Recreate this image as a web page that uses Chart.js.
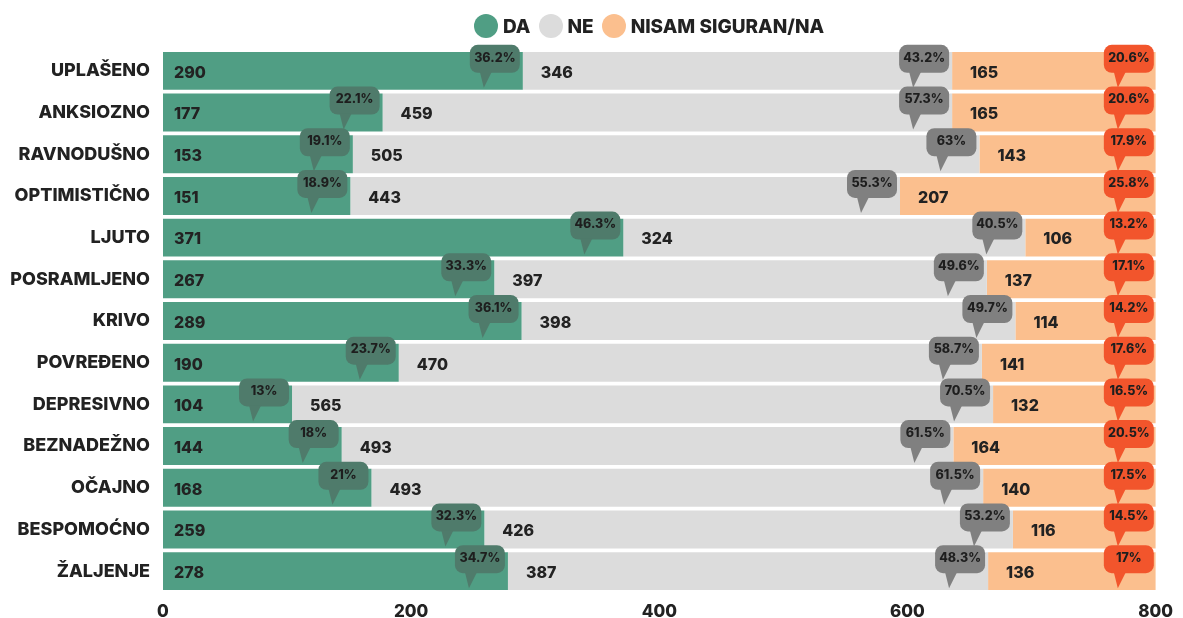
<!DOCTYPE html>
<html>
<head>
<meta charset="utf-8">
<script src="https://cdn.jsdelivr.net/npm/chart.js@4"></script>
<style>
    html, body { margin: 0; padding: 0; background: #fff; }
    #wrap { width: 1183px; height: 618px; position: relative; }
    #legend { position: absolute; left: 474px; top: 14px; display: flex; align-items: center;
        font: 800 19px Inter, "Open Sans", sans-serif; color: #222; }
    #legend .item { display: flex; align-items: center; margin-right: 8px; }
    #legend .dot { width: 24px; height: 24px; border-radius: 50%; margin-right: 5px; }
</style>
</head>
<body>
<div id="wrap">
    <canvas id="chart"></canvas>
    <div id="legend"></div>
</div>
<script>
// Data
const categories = ['UPLAŠENO', 'ANKSIOZNO', 'RAVNODUŠNO', 'OPTIMISTIČNO', 'LJUTO', 'POSRAMLJENO', 'KRIVO',
    'POVREĐENO', 'DEPRESIVNO', 'BEZNADEŽNO', 'OČAJNO', 'BESPOMOĆNO', 'ŽALJENJE'];
const seriesNames = ['DA', 'NE', 'NISAM SIGURAN/NA'];
const daValues = [290, 177, 153, 151, 371, 267, 289, 190, 104, 144, 168, 259, 278];
const neValues = [346, 459, 505, 443, 324, 397, 398, 470, 565, 493, 493, 426, 387];
const naValues = [165, 165, 143, 207, 106, 137, 114, 141, 132, 164, 140, 116, 136];
const daPercent = ['36.2%', '22.1%', '19.1%', '18.9%', '46.3%', '33.3%', '36.1%', '23.7%', '13%', '18%', '21%', '32.3%', '34.7%'];
const nePercent = ['43.2%', '57.3%', '63%', '55.3%', '40.5%', '49.6%', '49.7%', '58.7%', '70.5%', '61.5%', '61.5%', '53.2%', '48.3%'];
const naPercent = ['20.6%', '20.6%', '17.9%', '25.8%', '13.2%', '17.1%', '14.2%', '17.6%', '16.5%', '20.5%', '17.5%', '14.5%', '17%'];
const xTicks = [0, 200, 400, 600, 800];

const barColors = ['#509e84', '#dcdcdc', '#fbbf8e'];
const bubbleColors = ['#4f7b6b', '#808080', '#f2552c'];
const percentSets = [daPercent, nePercent, naPercent];
const FONT = 'Inter, "Open Sans", sans-serif';

// Legend
document.getElementById('legend').innerHTML = seriesNames.map((name, i) =>
    `<div class="item"><span class="dot" style="background:${barColors[i]}"></span>${name}</div>`
).join('');

// Draws value labels at segment start and speech bubbles at segment end
const bubblePlugin = {
    id: 'bubbles',
    afterDatasetsDraw(chart) {
        const ctx = chart.ctx;
        ctx.save();
        // value labels
        chart.data.datasets.forEach((ds, i) => {
            const meta = chart.getDatasetMeta(i);
            meta.data.forEach((bar, j) => {
                const offset = i === 0 ? 11 : 18;
                ctx.fillStyle = '#222';
                ctx.font = '800 16px ' + FONT;
                ctx.textAlign = 'left';
                ctx.textBaseline = 'middle';
                ctx.fillText(ds.data[j], bar.base + offset, bar.y + 2);
            });
        });
        // bubbles
        chart.data.datasets.forEach((ds, i) => {
            const meta = chart.getDatasetMeta(i);
            meta.data.forEach((bar, j) => {
                const w = 50, h = 28;
                const right = bar.x - 3;
                const left = right - w;
                const top = bar.y - 26;
                const tailX = left + 16;
                ctx.fillStyle = bubbleColors[i];
                ctx.beginPath();
                ctx.roundRect(left, top, w, h, 8);
                ctx.fill();
                ctx.beginPath();
                ctx.moveTo(tailX - 6, top + h - 1);
                ctx.lineTo(tailX + 6, top + h - 1);
                ctx.lineTo(tailX - 2, bar.y + 17);
                ctx.closePath();
                ctx.fill();
                ctx.fillStyle = '#1e1e1e';
                ctx.font = '800 12.5px ' + FONT;
                ctx.textAlign = 'center';
                ctx.textBaseline = 'middle';
                ctx.fillText(percentSets[i][j], left + w / 2, top + h / 2 - 1);
            });
        });
        ctx.restore();
    }
};

new Chart(document.getElementById('chart'), {
    type: 'bar',
    data: {
        labels: categories,
        datasets: [daValues, neValues, naValues].map((vals, i) => ({
            label: seriesNames[i],
            data: vals,
            backgroundColor: barColors[i],
            borderWidth: 0,
            barPercentage: 0.91,
            categoryPercentage: 1
        }))
    },
    options: {
        indexAxis: 'y',
        responsive: true,
        maintainAspectRatio: false,
        animation: false,
        layout: { padding: { top: 50, right: 20, bottom: 0, left: 0 } },
        plugins: {
            legend: { display: false },
            tooltip: { enabled: false }
        },
        scales: {
            x: {
                stacked: true,
                min: 0,
                max: 800,
                afterBuildTicks: s => { s.ticks = xTicks.map(v => ({ value: v })); },
                afterFit: s => { s.height = 26; },
                grid: { display: false, drawTicks: false },
                border: { display: false },
                ticks: {
                    color: '#222',
                    padding: 10,
                    font: { family: FONT, size: 17, weight: '800' }
                }
            },
            y: {
                stacked: true,
                afterFit: s => { s.width = 163; },
                grid: { display: false, drawTicks: false },
                border: { display: false },
                ticks: {
                    color: '#222',
                    padding: 13,
                    font: { family: FONT, size: 18, weight: '800' }
                }
            }
        }
    },
    plugins: [bubblePlugin]
});
</script>
</body>
</html>
